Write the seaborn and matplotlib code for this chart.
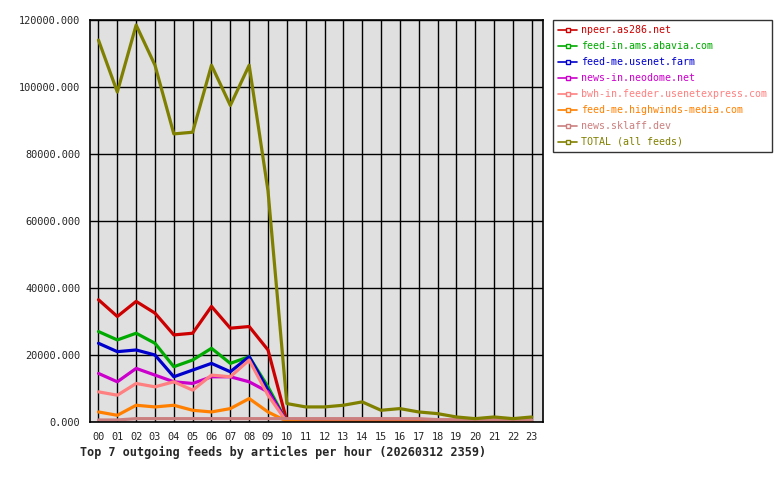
import numpy as np
import pandas as pd
import matplotlib.pyplot as plt
import seaborn as sns
from matplotlib.lines import Line2D

# hours and feed names
hours = ['%02d' % h for h in range(24)]
feeds = ['npeer.as286.net', 'feed-in.ams.abavia.com', 'feed-me.usenet.farm',
         'news-in.neodome.net', 'bwh-in.feeder.usenetexpress.com',
         'feed-me.highwinds-media.com', 'news.sklaff.dev', 'TOTAL (all feeds)']
colors = ['#cc0000', '#00aa00', '#0000cc', '#cc00cc', '#ff8080', '#ff8000', '#cc7f7f', '#808000']

# articles per hour
npeer = [36500, 31500, 36000, 32500, 26000, 26500, 34500, 28000, 28500, 21500, 300] + [0] * 13
abavia = [27000, 24500, 26500, 23500, 16500, 18500, 22000, 17500, 19500, 10500, 0] + [0] * 13
usenet_farm = [23500, 21000, 21500, 20000, 13500, 15500, 17500, 15000, 19500, 9500, 0] + [0] * 13
neodome = [14500, 12000, 16000, 14000, 12000, 11500, 13500, 13500, 12000, 9000, 0] + [0] * 13
usenetexpress = [9000, 8000, 11500, 10500, 12000, 9500, 14000, 13500, 18500, 8000, 0] + [0] * 13
highwinds = [3000, 2000, 5000, 4500, 5000, 3500, 3000, 4000, 7000, 3000, 200] + [0] * 13
sklaff = [600, 600] + [1000] * 16 + [700] * 6
total = [114000, 98500, 118500, 106500, 86000, 86500, 106500, 94500, 106500, 69000,
         5500, 4500, 4500, 5000, 6000, 3500, 4000, 3000, 2500, 1500, 1000, 1500, 1000, 1500]

series = [npeer, abavia, usenet_farm, neodome, usenetexpress, highwinds, sklaff, total]
rows = []
for name, vals in zip(feeds, series):
    for h, v in enumerate(vals):
        rows.append({'hour': h, 'articles': v, 'feed': name})
df = pd.DataFrame(rows)

sns.set_style('white')
plt.rcParams['font.family'] = ['DejaVu Sans Mono']

fig = plt.figure(figsize=(7.8, 4.8), dpi=100)
ax = fig.add_axes([90 / 780, 1 - 422 / 480, 453 / 780, 402 / 480])
ax.set_facecolor('#e0e0e0')

sns.lineplot(data=df, x='hour', y='articles', hue='feed', hue_order=feeds,
             palette=colors, linewidth=2.3, legend=False, ax=ax, sort=False)

ax.set_xlim(-0.45, 23.6)
ax.set_ylim(0, 120000)
ax.set_xticks(range(24))
ax.set_xticklabels(hours)
ax.set_yticks(np.arange(0, 120001, 20000))
ax.set_yticklabels(['%.3f' % v for v in np.arange(0, 120001, 20000)])
ax.grid(True, color='black', linewidth=1)
ax.set_axisbelow(True)
ax.tick_params(direction='out', length=4, width=1, color='black', labelsize=7.4, pad=3)
for s in ax.spines.values():
    s.set_color('black')
    s.set_linewidth(1.2)
ax.set_xlabel('')
ax.set_ylabel('')

fig.text(80 / 780, 1 - 452 / 480, 'Top 7 outgoing feeds by articles per hour (20260312 2359)',
         fontsize=8.5, fontweight='bold', va='center', ha='left')

handles = [Line2D([0], [0], color=c, lw=1.2, marker='s', markersize=3,
                  markerfacecolor='white', markeredgecolor=c) for c in colors]
leg = fig.legend(handles, feeds, loc='upper left', bbox_to_anchor=(553 / 780, 1 - 20 / 480),
                 frameon=True, fontsize=7.2, handlelength=1.9, handletextpad=0.4,
                 labelspacing=0.6, borderpad=0.5, borderaxespad=0, fancybox=False)
leg.get_frame().set_edgecolor('black')
leg.get_frame().set_linewidth(1)
for t, c in zip(leg.get_texts(), colors):
    t.set_color(c)

fig.savefig('out.png', dpi=100)
plt.close()
